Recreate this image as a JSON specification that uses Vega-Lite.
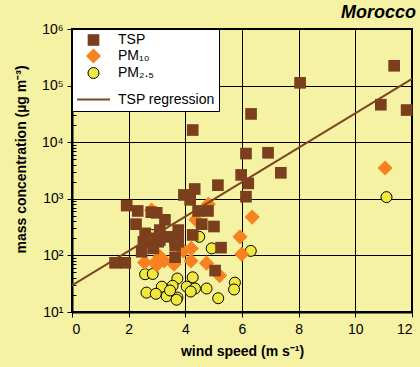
{
  "$schema": "https://vega.github.io/schema/vega-lite/v6.json",
  "width": 340,
  "height": 283,
  "autosize": {"type": "none"},
  "padding": {"left": 72, "top": 29, "right": 8, "bottom": 55},
  "background": "#F5F2A3",
  "title": {"text": "Morocco", "anchor": "end", "fontSize": 18, "fontStyle": "italic", "fontWeight": "bold", "font": "Liberation Sans", "color": "black", "offset": 0},
  "config": {
    "view": {"stroke": "black", "strokeWidth": 2, "fill": "#F5F2A3"},
    "legend": {"title": null, "orient": "top-left", "offset": 0, "padding": 4, "fillColor": "white", "strokeColor": "black", "labelFont": "Liberation Sans", "labelFontSize": 14, "labelColor": "black", "labelOffset": 7, "symbolOffset": 0, "rowPadding": 1, "symbolOpacity": 1},
    "axis": {"labelFont": "Liberation Sans", "labelFontSize": 14, "labelColor": "black", "titleFont": "Liberation Sans", "titleFontSize": 14, "titleFontWeight": "bold", "titleColor": "black", "domainColor": "black", "domainWidth": 2, "tickColor": "black", "gridColor": "black", "gridWidth": 1, "gridOpacity": 1}
  },
  "datasets": {
    "pts": [
      {"series": "PM₂.₅", "ws": 11.1, "conc": 1070},
      {"series": "PM₂.₅", "ws": 6.31, "conc": 120},
      {"series": "PM₂.₅", "ws": 4.93, "conc": 133},
      {"series": "PM₂.₅", "ws": 4.49, "conc": 213},
      {"series": "PM₂.₅", "ws": 2.81, "conc": 230},
      {"series": "PM₂.₅", "ws": 5.75, "conc": 33},
      {"series": "PM₂.₅", "ws": 5.72, "conc": 25},
      {"series": "PM₂.₅", "ws": 4.75, "conc": 26},
      {"series": "PM₂.₅", "ws": 5.16, "conc": 17.5},
      {"series": "PM₂.₅", "ws": 2.58, "conc": 46.5},
      {"series": "PM₂.₅", "ws": 2.85, "conc": 47},
      {"series": "PM₂.₅", "ws": 3.72, "conc": 39},
      {"series": "PM₂.₅", "ws": 4.26, "conc": 41},
      {"series": "PM₂.₅", "ws": 3.17, "conc": 28},
      {"series": "PM₂.₅", "ws": 3.55, "conc": 29},
      {"series": "PM₂.₅", "ws": 4.05, "conc": 28},
      {"series": "PM₂.₅", "ws": 4.34, "conc": 26},
      {"series": "PM₂.₅", "ws": 2.63, "conc": 22},
      {"series": "PM₂.₅", "ws": 2.96, "conc": 21},
      {"series": "PM₂.₅", "ws": 3.34, "conc": 19},
      {"series": "PM₂.₅", "ws": 3.72, "conc": 18},
      {"series": "PM₂.₅", "ws": 4.19, "conc": 23},
      {"series": "PM₂.₅", "ws": 3.46, "conc": 24},
      {"series": "PM₂.₅", "ws": 3.69, "conc": 16.5},
      {"series": "PM₁₀", "ws": 2.81, "conc": 630},
      {"series": "PM₁₀", "ws": 4.81, "conc": 800},
      {"series": "PM₁₀", "ws": 4.37, "conc": 425},
      {"series": "PM₁₀", "ws": 6.36, "conc": 475},
      {"series": "PM₁₀", "ws": 5.93, "conc": 213},
      {"series": "PM₁₀", "ws": 5.99, "conc": 105},
      {"series": "PM₁₀", "ws": 4.21, "conc": 133},
      {"series": "PM₁₀", "ws": 3.93, "conc": 120},
      {"series": "PM₁₀", "ws": 4.2, "conc": 80},
      {"series": "PM₁₀", "ws": 4.75, "conc": 73},
      {"series": "PM₁₀", "ws": 5.21, "conc": 44},
      {"series": "PM₁₀", "ws": 3.6, "conc": 70},
      {"series": "PM₁₀", "ws": 3.25, "conc": 80},
      {"series": "PM₁₀", "ws": 2.99, "conc": 68},
      {"series": "PM₁₀", "ws": 2.56, "conc": 75},
      {"series": "PM₁₀", "ws": 3.1, "conc": 95},
      {"series": "PM₁₀", "ws": 2.81, "conc": 187},
      {"series": "PM₁₀", "ws": 2.93, "conc": 74},
      {"series": "PM₁₀", "ws": 11.05, "conc": 3500},
      {"series": "TSP", "ws": 1.52, "conc": 74},
      {"series": "TSP", "ws": 1.88, "conc": 74},
      {"series": "TSP", "ws": 1.93, "conc": 760},
      {"series": "TSP", "ws": 2.32, "conc": 610},
      {"series": "TSP", "ws": 2.26, "conc": 356},
      {"series": "TSP", "ws": 2.58, "conc": 245},
      {"series": "TSP", "ws": 2.52, "conc": 174},
      {"series": "TSP", "ws": 2.46, "conc": 116},
      {"series": "TSP", "ws": 2.87, "conc": 133},
      {"series": "TSP", "ws": 2.99, "conc": 565},
      {"series": "TSP", "ws": 2.8, "conc": 580},
      {"series": "TSP", "ws": 3.28, "conc": 425},
      {"series": "TSP", "ws": 3.1, "conc": 280},
      {"series": "TSP", "ws": 3.22, "conc": 213},
      {"series": "TSP", "ws": 3.04, "conc": 174},
      {"series": "TSP", "ws": 3.1, "conc": 187},
      {"series": "TSP", "ws": 3.58, "conc": 213},
      {"series": "TSP", "ws": 3.75, "conc": 280},
      {"series": "TSP", "ws": 3.75, "conc": 174},
      {"series": "TSP", "ws": 3.64, "conc": 187},
      {"series": "TSP", "ws": 3.64, "conc": 152},
      {"series": "TSP", "ws": 3.64, "conc": 93},
      {"series": "TSP", "ws": 2.7, "conc": 200},
      {"series": "TSP", "ws": 3.95, "conc": 1170},
      {"series": "TSP", "ws": 4.17, "conc": 960},
      {"series": "TSP", "ws": 4.33, "conc": 1490},
      {"series": "TSP", "ws": 4.26, "conc": 16400},
      {"series": "TSP", "ws": 4.26, "conc": 230},
      {"series": "TSP", "ws": 4.45, "conc": 610},
      {"series": "TSP", "ws": 4.8, "conc": 610},
      {"series": "TSP", "ws": 4.58, "conc": 356},
      {"series": "TSP", "ws": 5.01, "conc": 324},
      {"series": "TSP", "ws": 5.15, "conc": 1740},
      {"series": "TSP", "ws": 5.26, "conc": 137},
      {"series": "TSP", "ws": 5.05, "conc": 54},
      {"series": "TSP", "ws": 5.97, "conc": 2640},
      {"series": "TSP", "ws": 6.14, "conc": 6300},
      {"series": "TSP", "ws": 6.22, "conc": 1870},
      {"series": "TSP", "ws": 6.14, "conc": 1090},
      {"series": "TSP", "ws": 6.32, "conc": 31600},
      {"series": "TSP", "ws": 6.92, "conc": 6500},
      {"series": "TSP", "ws": 7.37, "conc": 2880},
      {"series": "TSP", "ws": 8.05, "conc": 112000},
      {"series": "TSP", "ws": 10.9, "conc": 46000},
      {"series": "TSP", "ws": 11.37, "conc": 224000},
      {"series": "TSP", "ws": 11.81, "conc": 37000}
    ],
    "reg": [
      {"ws": 0, "conc": 29.5},
      {"ws": 12, "conc": 132000}
    ]
  },
  "layer": [
    {
      "data": {"name": "pts"},
      "mark": {"type": "point", "filled": true, "opacity": 1},
      "encoding": {
        "x": {"field": "ws", "type": "quantitative", "scale": {"domain": [0, 12], "nice": false},
          "axis": {"values": [0, 2, 4, 6, 8, 10, 12], "title": "wind speed (m s⁻¹)", "tickSize": 5, "labelPadding": 5, "titlePadding": 8}},
        "y": {"field": "conc", "type": "quantitative", "scale": {"type": "log", "domain": [10, 1000000], "nice": false},
          "axis": {
            "values": [10,20,30,40,50,60,70,80,90,100,200,300,400,500,600,700,800,900,1000,2000,3000,4000,5000,6000,7000,8000,9000,10000,20000,30000,40000,50000,60000,70000,80000,90000,100000,200000,300000,400000,500000,600000,700000,800000,900000,1000000],
            "labelExpr": "indexof([10,100,1000,10000,100000,1000000], datum.value) >= 0 ? '10' + ['¹','²','³','⁴','⁵','⁶'][indexof([10,100,1000,10000,100000,1000000], datum.value)] : ''",
            "tickSize": {"condition": {"test": "indexof([10,100,1000,10000,100000,1000000], datum.value) >= 0", "value": 5}, "value": -4},
            "gridOpacity": {"condition": {"test": "indexof([10,100,1000,10000,100000,1000000], datum.value) >= 0", "value": 1}, "value": 0},
            "labelPadding": 4,
            "title": "mass concentration (µg m⁻³)",
            "titleX": -51, "titleY": 130, "titleBaseline": "middle"
          }},
        "fill": {"field": "series", "type": "nominal",
          "scale": {"domain": ["TSP", "PM₁₀", "PM₂.₅", "TSP regression"], "range": ["#7B3F1D", "#F7821F", "#F0E83E", "#7B3F1D"]}},
        "stroke": {"field": "series", "type": "nominal",
          "scale": {"domain": ["TSP", "PM₁₀", "PM₂.₅", "TSP regression"], "range": ["#7B3F1D", "#F7821F", "#000000", "#7F4422"]}},
        "shape": {"field": "series", "type": "nominal",
          "scale": {"domain": ["TSP", "PM₁₀", "PM₂.₅", "TSP regression"], "range": ["square", "diamond", "circle", "stroke"]}},
        "size": {"field": "series", "type": "nominal",
          "scale": {"type": "ordinal", "domain": ["TSP", "PM₁₀", "PM₂.₅", "TSP regression"], "range": [136, 230, 121, 1089]}},
        "strokeWidth": {"field": "series", "type": "nominal",
          "scale": {"type": "ordinal", "domain": ["TSP", "PM₁₀", "PM₂.₅", "TSP regression"], "range": [0, 0, 1, 2]}}
      }
    },
    {
      "data": {"name": "reg"},
      "mark": {"type": "line", "color": "#7F4422", "strokeWidth": 2},
      "encoding": {
        "x": {"field": "ws", "type": "quantitative"},
        "y": {"field": "conc", "type": "quantitative"}
      }
    }
  ]
}
